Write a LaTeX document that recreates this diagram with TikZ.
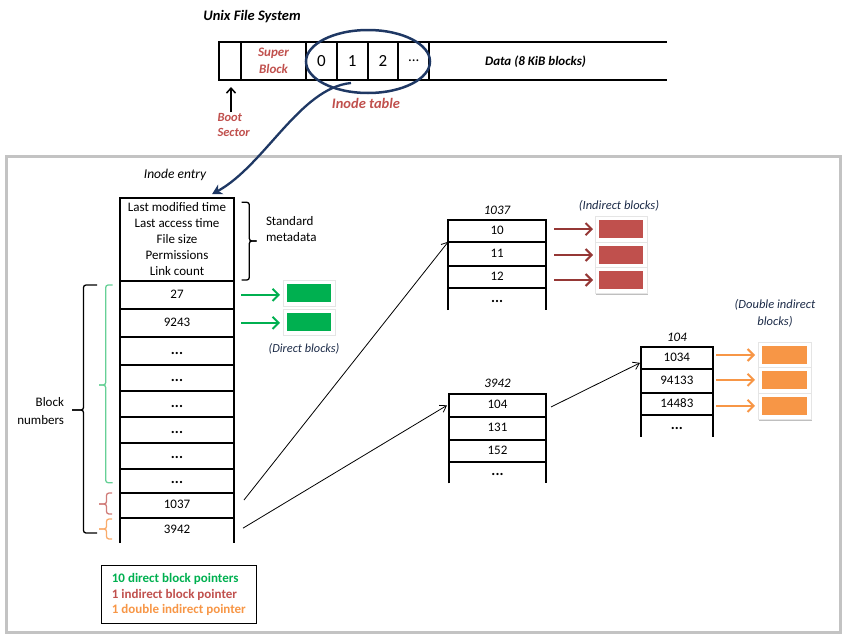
\documentclass[tikz,border=0pt]{standalone}
\usepackage{fontspec}
\setmainfont{Carlito}
\usetikzlibrary{arrows.meta,shapes.geometric,shadows}
\definecolor{cgreen}{HTML}{00B050}
\definecolor{cred}{HTML}{C0504D}
\definecolor{cdred}{HTML}{953735}
\definecolor{corange}{HTML}{F79646}
\definecolor{cnavy}{HTML}{1F3864}
\definecolor{cgray}{HTML}{C3C3C3}
\definecolor{clabel}{HTML}{1B2A47}
\newcommand\dd{{\fontsize{15}{16}\bfseries...}}
\newcommand\crow[6]{\node[cell, minimum width=#4pt, minimum height=#5pt] (#1) at (#2,#3) {#6};}
\newcommand\orow[6]{\node[cellbase, draw=none, text height=9.5pt, text depth=3pt, minimum width=#4pt, minimum height=#5pt] (#1) at (#2,#3) {#6};
  \draw[line width=2pt] (#1.south west) -- (#1.north west) -- (#1.north east) -- (#1.south east);}
\newcommand\dblock[6]{\node[blockframe, minimum width=#4pt+8pt, minimum height=#5pt+8pt] (#1f) at (#2,#3) {};
  \node[fill=#6, minimum width=#4pt, minimum height=#5pt] (#1) at (#2,#3) {};}
\newcommand\mybrace[7]{% color, xends, xv, xtip, ytop, ybot, ymid
  \draw[#1, line width=1.3pt, rounded corners=2.5pt] (#2,#5) -- (#3,#5) -- (#3,#7) -- (#4,#7);
  \draw[#1, line width=1.3pt, rounded corners=2.5pt] (#4,#7) -- (#3,#7) -- (#3,#6) -- (#2,#6);}
\begin{document}
\begin{tikzpicture}[x=1pt,y=-1pt,
  every node/.style={inner sep=0pt, outer sep=0pt},
  fnt/.style={font=\fontsize{13}{16}\selectfont},
  cellbase/.style={draw, line width=2pt, fnt},
  cell/.style={cellbase, text height=9.5pt, text depth=3pt},
  barcell/.style={draw, line width=2pt, minimum height=38.3pt},
  blockframe/.style={fill=white, draw=black!10, line width=0.4pt,
    drop shadow={shadow xshift=1pt, shadow yshift=-1.5pt, opacity=0.25, fill=black}},
  ital/.style={font=\fontsize{12}{16}\itshape\selectfont, text=clabel},
  thinarrow/.style={line width=0.8pt, -{Straight Barb[length=6pt,width=8pt]}},
  colarrow/.style={line width=2pt, -{Straight Barb[length=6pt,width=12pt]}},
  redlbl/.style={text=cred, font=\fontsize{13}{17}\bfseries\itshape\selectfont}
]
\useasboundingbox (0,0) rectangle (848,640);
% outer frame
\draw[cgray, line width=3pt] (6,156) rectangle (840,632.5);
% title
\node[font=\fontsize{14.5}{17}\bfseries\itshape\selectfont] (title) at (252,17) {Unix File System};
% file system bar
\node[barcell, minimum width=21.7pt] (boot) at (230.15,60.85) {};
\node[barcell, minimum width=65pt, redlbl, align=center] (super) at (273.5,60.85) {Super\\Block};
\node[barcell, minimum width=30.7pt, font=\fontsize{17}{20}\selectfont] (k0) at (321.35,60.85) {0};
\node[barcell, minimum width=31pt, font=\fontsize{17}{20}\selectfont] (k1) at (352.2,60.85) {1};
\node[barcell, minimum width=30.6pt, font=\fontsize{17}{20}\selectfont] (k2) at (383,60.85) {2};
\node[barcell, minimum width=31pt, font=\fontsize{15}{20}\selectfont] (kd) at (413.8,60.85) {...};
\node[minimum width=237.4pt, minimum height=38.3pt] (data) at (548,60.85) {};
\draw[line width=2pt] (data.north west) -- (data.north east);
\draw[line width=2pt] (data.south west) -- (data.south east);
\node[font=\fontsize{13}{15}\bfseries\itshape\selectfont] (datalbl) at (535.5,61.5) {Data (8 KiB blocks)};
% boot sector
\node[redlbl, font=\fontsize{12.5}{15}\bfseries\itshape\selectfont, align=left, anchor=north west] (bootlbl) at (217.5,113) {Boot\\Sector};
\coordinate (bootarr) at (231,112);
\draw[line width=1.5pt, -{Straight Barb[length=5pt,width=9pt]}] (bootarr) -- ([yshift=-7pt]bootarr |- boot.south);
% inode table ellipse
\node[ellipse, draw=cnavy, line width=2.5pt, minimum width=124pt, minimum height=63pt] (itab) at (368,61.5) {};
\node[redlbl, font=\fontsize{14.5}{17}\bfseries\itshape\selectfont] (itlbl) at (366,103) {Inode table};
% inode entry
\node[font=\fontsize{13.5}{16}\itshape\selectfont] (ientry) at (175,175) {Inode entry};
\node[cellbase, align=center, minimum width=114pt, minimum height=83pt] (hdr) at (177,239.2)
  {Last modified time\\Last access time\\File size\\Permissions\\Link count};
\coordinate (cstart) at (351,83);
\draw[cnavy, line width=2.3pt, -{Stealth[length=10pt,width=11pt,inset=3pt]}]
  (cstart) .. controls (300,88) and (265,165) .. ([xshift=35pt,yshift=3.5pt]hdr.north);
% main column
\crow{r1}{177}{294.85}{114}{28.3}{27}
\crow{r2}{177}{322.85}{114}{27.7}{9243}
\crow{r3}{177}{350.85}{114}{28.3}{\dd}
\crow{r4}{177}{377.85}{114}{25.7}{\dd}
\crow{r5}{177}{404}{114}{26.6}{\dd}
\crow{r6}{177}{430}{114}{25.4}{\dd}
\crow{r7}{177}{455.7}{114}{26}{\dd}
\crow{r8}{177}{480.7}{114}{24}{\dd}
\crow{r9}{177}{505.5}{114}{25.6}{1037}
\orow{r10}{177}{530.65}{114}{24.7}{3942}
% braces
\mybrace{black}{241.7}{249.3}{256.7}{202.3}{280}{241}
\node[fnt, align=left, anchor=west] (stdmd) at (266,229) {Standard\\metadata};
\mybrace{black}{97}{83.5}{72}{285}{533}{410}
\node[font=\fontsize{13}{18}\selectfont, align=right, anchor=east] (bnum) at (64,411) {Block\\numbers};
\mybrace{cgreen!60!white}{112.7}{105.7}{99}{285}{482.7}{385}
\mybrace{cred!75!white}{112}{106.5}{99}{493}{514}{504}
\mybrace{corange!80!white}{112}{106.5}{99}{519}{539}{529}
% direct blocks
\dblock{g1}{308.7}{292.85}{44}{17.7}{cgreen}
\dblock{g2}{308.7}{322}{44}{17.4}{cgreen}
\draw[colarrow, cgreen] ([xshift=7pt]r1.east) -- ([xshift=-6.7pt]r1.east -| g1.west);
\draw[colarrow, cgreen] ([xshift=7pt]r2.east) -- ([xshift=-6.7pt]r2.east -| g2.west);
\node[ital, font=\fontsize{12.3}{16}\itshape\selectfont] (dlbl) at (304,349) {(Direct blocks)};
% indirect column
\node[font=\fontsize{13}{16}\itshape\selectfont] (t1) at (497,210) {1037};
\crow{a1}{497.15}{230.85}{97.7}{21.7}{10}
\crow{a2}{497.15}{253.85}{97.7}{24.3}{11}
\crow{a3}{497.15}{277.15}{97.7}{22.3}{12}
\orow{a4}{497.15}{299.15}{97.7}{21.7}{\dd}
\dblock{d1}{621.15}{229.15}{44.3}{18.3}{cred}
\dblock{d2}{621.15}{255}{44.3}{18}{cred}
\dblock{d3}{621.15}{280}{44.3}{18}{cred}
\draw[colarrow, cdred] ([xshift=8pt]a1.east |- d1.center) -- ([xshift=-6pt]d1.west);
\draw[colarrow, cdred] ([xshift=8pt]a2.east |- d2.center) -- ([xshift=-6pt]d2.west);
\draw[colarrow, cdred] ([xshift=8pt]a3.east |- d3.center) -- ([xshift=-6pt]d3.west);
\node[ital, font=\fontsize{12.5}{14}\itshape\selectfont] (ilbl) at (619,206) {(Indirect blocks)};
% double indirect column
\node[font=\fontsize{13}{16}\itshape\selectfont] (t2) at (497.5,383) {3942};
\crow{b1}{497.5}{405.35}{97}{22.7}{104}
\crow{b2}{497.5}{428.35}{97}{23.3}{131}
\crow{b3}{497.5}{450.85}{97}{21.7}{152}
\orow{b4}{497.5}{472.5}{97}{21.6}{\dd}
\node[font=\fontsize{13}{16}\itshape\selectfont] (t3) at (677,337) {104};
\crow{c1}{676.85}{357.85}{71.7}{22.3}{1034}
\crow{c2}{676.85}{380.85}{71.7}{23.7}{94133}
\crow{c3}{676.85}{403.85}{71.7}{22.3}{14483}
\orow{c4}{676.85}{425.85}{71.7}{21.7}{\dd}
\dblock{e1}{784.2}{355}{45}{18}{corange}
\dblock{e2}{784.2}{379.85}{45}{18.3}{corange}
\dblock{e3}{784.2}{405.85}{45}{18.3}{corange}
\draw[colarrow, corange] ([xshift=3.3pt]c1.east |- e1.center) -- ([xshift=-6.7pt]e1.west);
\draw[colarrow, corange] ([xshift=3.3pt]c2.east |- e2.center) -- ([xshift=-6.7pt]e2.west);
\draw[colarrow, corange] ([xshift=3.3pt]c3.east |- e3.center) -- ([xshift=-6.7pt]e3.west);
\node[ital, font=\fontsize{12.5}{17}\itshape\selectfont, align=center] (dilbl) at (775,313.5) {(Double indirect\\blocks)};
% pointer arrows
\draw[thinarrow] ([xshift=10pt,yshift=5.5pt]r9.east) -- (a1.south west);
\draw[thinarrow] ([xshift=9pt,yshift=2.5pt]r10.east) -- ([xshift=-2pt]b1.west);
\draw[thinarrow] ([xshift=5pt,yshift=-1.65pt]b1.east) -- ([xshift=-1pt,yshift=-5pt]c1.west);
% legend
\node[draw, line width=1pt, minimum width=154.3pt, minimum height=57.6pt, align=left,
  font=\fontsize{13}{15.5}\bfseries\selectfont] (legend) at (178.85,594.5)
  {\textcolor{cgreen}{10 direct block pointers}\\\textcolor{cred}{1 indirect block pointer}\\\textcolor{corange}{1 double indirect pointer}};
\end{tikzpicture}
\end{document}
